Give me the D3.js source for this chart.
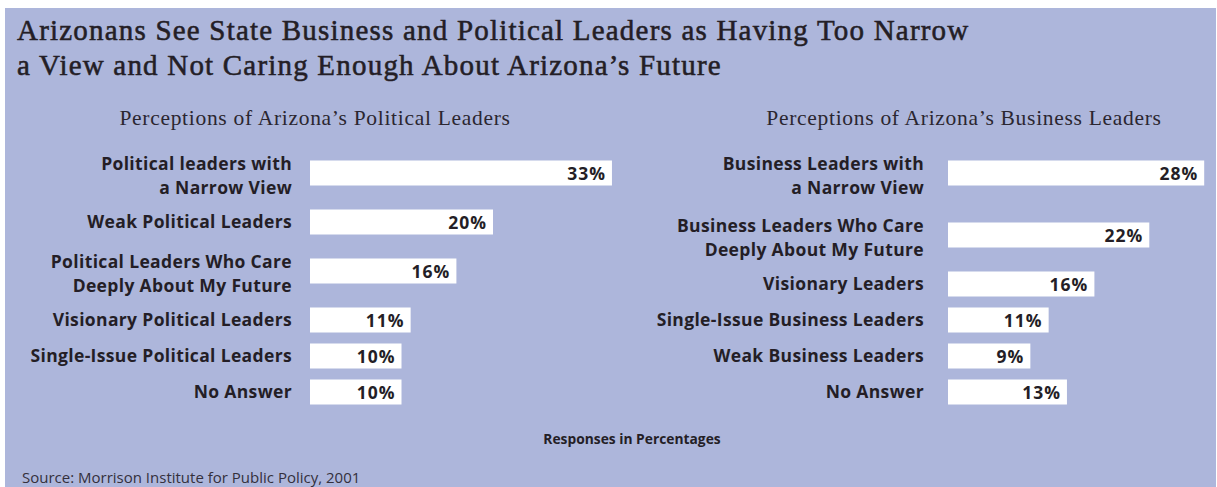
<!DOCTYPE html>
<html>
<head>
<meta charset="utf-8">
<script src="https://cdn.jsdelivr.net/npm/d3@7"></script>
<style>
  html, body { margin: 0; padding: 0; background: #ffffff; }
  svg { display: block; }
</style>
</head>
<body>
<svg id="chart" width="1217" height="487"></svg>
<script>
// Survey responses, in percent
const politicalLabels = [
  ["Political leaders with", "a Narrow View"],
  ["Weak Political Leaders"],
  ["Political Leaders Who Care", "Deeply About My Future"],
  ["Visionary Political Leaders"],
  ["Single-Issue Political Leaders"],
  ["No Answer"]
];
const politicalValues = [33, 20, 16, 11, 10, 10];

const businessLabels = [
  ["Business Leaders with", "a Narrow View"],
  ["Business Leaders Who Care", "Deeply About My Future"],
  ["Visionary Leaders"],
  ["Single-Issue Business Leaders"],
  ["Weak Business Leaders"],
  ["No Answer"]
];
const businessValues = [28, 22, 16, 11, 9, 13];

const titleLines = [
  "Arizonans See State Business and Political Leaders as Having Too Narrow",
  "a View and Not Caring Enough About Arizona\u2019s Future"
];
const panelTitles = ["Perceptions of Arizona\u2019s Political Leaders", "Perceptions of Arizona\u2019s Business Leaders"];
const axisNote = "Responses in Percentages";
const sourceNote = "Source: Morrison Institute for Public Policy, 2001";

const W = 1217, H = 487;
const bg = "#adb6db";
const ink = "#241e26";
const sans = "'Open Sans', 'Noto Sans', sans-serif";
const serif = "'Liberation Serif', 'DejaVu Serif', serif";

const svg = d3.select("#chart");

svg.append("rect")
  .attr("x", 5).attr("y", 8)
  .attr("width", W - 6).attr("height", H - 8)
  .attr("fill", bg);

// Title (semibold look: regular face with a thin outline)
svg.append("text")
  .attr("x", 17).attr("y", 40)
  .attr("font-family", serif)
  .attr("font-size", 29)
  .attr("letter-spacing", 1.2)
  .attr("fill", ink)
  .attr("stroke", ink)
  .attr("stroke-width", 0.55)
  .selectAll("tspan")
  .data(titleLines)
  .join("tspan")
  .attr("x", 17)
  .attr("dy", (d, i) => i === 0 ? 0 : 35)
  .text(d => d);

// Shared value scale for both panels
const x = d3.scaleLinear().domain([0, 10]).range([0, 91.5]);

const rowHeight = n => n === 1 ? 36 : 62;
const barH = 25;
const lineGap = 24;

function panel(labels, values, labelRight, barLeft, titleCenter, titleText) {
  const g = svg.append("g");

  g.append("text")
    .attr("x", titleCenter).attr("y", 125)
    .attr("text-anchor", "middle")
    .attr("font-family", serif)
    .attr("font-size", 21.5)
    .attr("letter-spacing", 0.7)
    .attr("fill", "#2b2630")
    .text(titleText);

  const heights = labels.map(l => rowHeight(l.length));
  const starts = [0, ...d3.cumsum(heights)];
  const rows = values.map((v, i) => ({
    v, lines: labels[i], c: 142 + starts[i] + heights[i] / 2
  }));

  const row = g.selectAll("g.row").data(rows).join("g").attr("class", "row");

  row.append("rect")
    .attr("x", barLeft)
    .attr("y", d => d.c - barH / 2)
    .attr("width", d => x(d.v))
    .attr("height", barH)
    .attr("fill", "#ffffff");

  row.append("text")
    .attr("x", d => barLeft + x(d.v) - 6)
    .attr("y", d => d.c + 6.5)
    .attr("text-anchor", "end")
    .attr("font-family", sans)
    .attr("font-weight", "bold")
    .attr("font-size", 17.5)
    .attr("letter-spacing", 1)
    .attr("fill", ink)
    .text(d => d.v + "%");

  // Category labels, one text element per line
  row.selectAll("text.label")
    .data(d => d.lines.map((t, j) => ({ t, j, n: d.lines.length, c: d.c })))
    .join("text")
    .attr("class", "label")
    .attr("text-anchor", "end")
    .attr("font-family", sans)
    .attr("font-weight", "bold")
    .attr("font-size", 17.5)
    .attr("letter-spacing", 0.35)
    .attr("fill", ink)
    .attr("x", labelRight)
    .attr("y", d => d.c + 6.2 + (d.j - (d.n - 1) / 2) * lineGap + (d.n > 1 ? 3 : 0))
    .text(d => d.t);
}

panel(politicalLabels, politicalValues, 292, 310, 315, panelTitles[0]);
panel(businessLabels, businessValues, 924, 948, 964, panelTitles[1]);

svg.append("text")
  .attr("x", 632).attr("y", 444)
  .attr("text-anchor", "middle")
  .attr("font-family", sans)
  .attr("font-weight", "bold")
  .attr("font-size", 13.8)
  .attr("fill", ink)
  .text(axisNote);

svg.append("text")
  .attr("x", 22).attr("y", 483)
  .attr("font-family", sans)
  .attr("font-size", 15)
  .attr("fill", "#34303c")
  .text(sourceNote);
</script>
</body>
</html>
